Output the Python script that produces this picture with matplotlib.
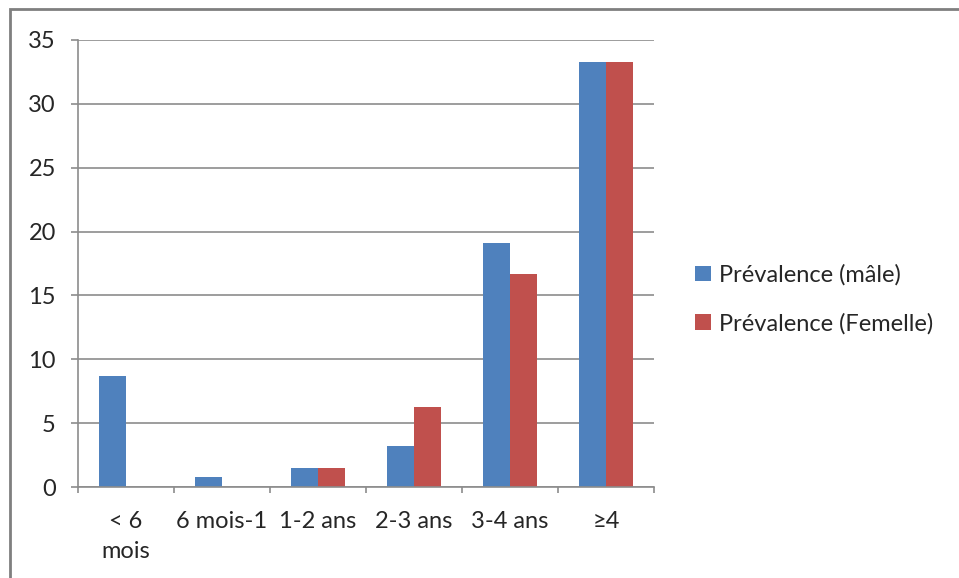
import matplotlib.pyplot as plt
import numpy as np
from matplotlib.patches import Rectangle

plt.rcParams['font.family'] = ['Lato', 'DejaVu Sans']

categories = ["< 6\nmois", "6 mois-1", "1-2 ans", "2-3 ans", "3-4 ans", "≥4"]
male = [8.7, 0.75, 1.5, 3.2, 19.1, 33.3]
female = [0, 0, 1.5, 6.3, 16.7, 33.3]

blue = "#4F81BD"
red = "#C0504D"
grey = "#8C8C8C"
txt = "#262626"

fig = plt.figure(figsize=(9.59, 5.78), dpi=100)
ax = fig.add_axes([78 / 959, 91 / 578, 576 / 959, 447 / 578])

x = np.arange(len(categories))
w = 0.285
ax.bar(x - w / 2, male, w, color=blue, label="Prévalence (mâle)")
ax.bar(x + w / 2, female, w, color=red, label="Prévalence (Femelle)")

ax.set_xlim(-0.5, len(categories) - 0.5)
ax.set_ylim(0, 35)
ax.set_yticks(range(0, 36, 5))
ax.yaxis.grid(True, color=grey, linewidth=1.2)
ax.set_axisbelow(True)

# ticks on the category boundaries, labels centred under the groups
ax.set_xticks(np.arange(-0.5, len(categories), 1))
ax.set_xticklabels([])
ax.set_xticks(x, minor=True)
ax.set_xticklabels(categories, minor=True, fontsize=17, color=txt,
                   linespacing=1.55)
ax.tick_params(axis="x", which="minor", length=0, pad=17)
ax.tick_params(axis="x", which="major", length=4.5, color=grey, width=1.2)
ax.tick_params(axis="y", length=5, color=grey, width=1.2, labelsize=17,
               labelcolor=txt, pad=11)

for s in ["top", "right"]:
    ax.spines[s].set_visible(False)
for s in ["left", "bottom"]:
    ax.spines[s].set_color(grey)
    ax.spines[s].set_linewidth(1.2)

leg = ax.legend(loc="center left", bbox_to_anchor=(1.035, 0.42), frameon=False,
                fontsize=17, handlelength=0.65, handleheight=0.65,
                handletextpad=0.35, labelspacing=1.15)
for t in leg.get_texts():
    t.set_color(txt)

# outer chart frame
fig.patches.append(Rectangle((10 / 959, -0.1), 1.2, (578 - 9) / 578 + 0.1,
                             transform=fig.transFigure, fill=False,
                             edgecolor="#7F7F7F", linewidth=2))

fig.savefig("out.png", dpi=100)
